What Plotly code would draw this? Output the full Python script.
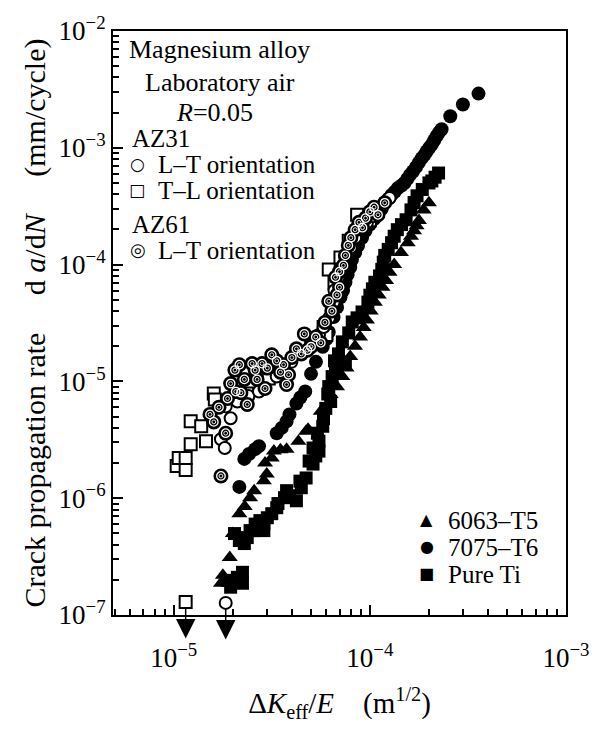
import math
import plotly.graph_objects as go

# ---------------- data ----------------
# AZ31, L-T orientation (open circles)
az31_lt_x = [1.84e-5, 1.74e-5, 1.82e-5, 1.95e-5, 1.84e-5, 2.11e-5, 2.40e-5, 2.72e-5, 3.35e-5,
             3.98e-5, 4.50e-5, 5.01e-5, 5.50e-5, 5.81e-5, 6.20e-5, 6.53e-5, 6.60e-5, 6.92e-5,
             7.20e-5, 7.50e-5, 8.00e-5, 8.41e-5, 9.00e-5, 9.66e-5, 1.04e-4, 1.12e-4, 1.26e-4]
az31_lt_y = [1.27e-7, 3.20e-6, 2.69e-6, 4.83e-6, 6.11e-6, 6.73e-6, 7.50e-6, 8.19e-6, 1.10e-5,
             1.47e-5, 1.75e-5, 2.18e-5, 2.50e-5, 2.92e-5, 3.50e-5, 4.77e-5, 6.00e-5, 7.79e-5,
             9.50e-5, 1.15e-4, 1.40e-4, 1.70e-4, 2.00e-4, 2.29e-4, 2.60e-4, 3.06e-4, 3.72e-4]

# AZ31, T-L orientation (open squares)
az31_tl_x = [1.15e-5, 1.035e-5, 1.06e-5, 1.15e-5, 1.15e-5, 1.22e-5, 1.46e-5, 1.22e-5, 1.38e-5,
             1.60e-5, 1.62e-5, 2.37e-5, 3.05e-5, 5.81e-5, 6.00e-5, 6.40e-5, 6.60e-5, 6.17e-5,
             7.08e-5, 7.80e-5, 8.61e-5, 9.30e-5, 1.00e-4]
az31_tl_y = [1.29e-7, 1.89e-6, 2.21e-6, 1.74e-6, 2.21e-6, 2.90e-6, 3.08e-6, 4.55e-6, 4.13e-6,
             7.87e-6, 7.00e-6, 7.87e-6, 1.06e-5, 2.92e-5, 2.50e-5, 4.40e-5, 7.00e-5, 9.10e-5,
             1.15e-4, 1.60e-4, 2.67e-4, 2.10e-4, 2.40e-4]

# AZ61, L-T orientation (bull's-eye circles)
az61_lt_x = [1.74e-5, 1.84e-5, 1.53e-5, 1.60e-5, 1.70e-5, 1.88e-5, 2.07e-5, 1.95e-5, 2.20e-5,
             2.37e-5, 2.29e-5, 2.66e-5, 2.05e-5, 2.16e-5, 2.51e-5, 2.60e-5, 2.82e-5, 2.92e-5,
             3.00e-5, 3.16e-5, 3.35e-5, 3.50e-5, 3.63e-5, 3.85e-5, 3.76e-5, 4.00e-5, 4.22e-5,
             4.47e-5, 4.63e-5, 4.80e-5, 5.01e-5, 5.30e-5, 5.62e-5, 5.90e-5, 6.17e-5, 6.40e-5,
             6.80e-5, 7.00e-5, 6.68e-5, 7.00e-5, 7.33e-5, 7.50e-5, 7.76e-5, 8.00e-5, 8.41e-5,
             8.80e-5, 9.17e-5, 9.50e-5, 1.00e-4, 1.05e-4, 1.10e-4, 1.19e-4]
az61_lt_y = [1.55e-6, 3.60e-6, 5.22e-6, 4.50e-6, 6.00e-6, 7.14e-6, 8.19e-6, 9.58e-6, 8.00e-6,
             6.35e-6, 1.04e-5, 1.04e-5, 1.25e-5, 1.39e-5, 1.42e-5, 1.25e-5, 1.42e-5, 8.69e-6,
             1.30e-5, 1.69e-5, 1.50e-5, 1.20e-5, 1.39e-5, 1.14e-5, 9.40e-6, 1.60e-5, 1.90e-5,
             1.72e-5, 2.55e-5, 1.85e-5, 1.98e-5, 2.40e-5, 2.14e-5, 3.20e-5, 4.86e-5, 4.00e-5,
             5.50e-5, 6.40e-5, 7.79e-5, 8.70e-5, 9.84e-5, 1.20e-4, 1.46e-4, 1.70e-4, 1.99e-4,
             2.30e-4, 2.07e-4, 2.50e-4, 2.83e-4, 3.10e-4, 2.67e-4, 3.38e-4]

# 6063-T5 (filled triangles)
al6063_x = [1.74e-5, 1.78e-5, 1.93e-5, 2.00e-5, 2.16e-5, 2.30e-5, 2.45e-5, 2.57e-5, 2.88e-5,
            2.98e-5, 2.92e-5, 3.16e-5, 3.24e-5, 3.50e-5, 3.76e-5, 4.32e-5, 4.73e-5, 4.84e-5,
            5.62e-5, 6.31e-5, 6.80e-5, 7.24e-5, 7.60e-5, 7.94e-5, 8.40e-5, 8.91e-5, 9.30e-5,
            9.66e-5, 1.01e-4, 1.06e-4, 1.11e-4, 1.16e-4, 1.21e-4, 1.26e-4, 1.33e-4, 1.44e-4,
            1.56e-4, 1.62e-4, 1.68e-4, 1.73e-4, 1.78e-4, 1.88e-4, 2.00e-4]
al6063_y = [1.87e-7, 2.19e-7, 3.11e-7, 4.98e-7, 7.37e-7, 8.50e-7, 1.01e-6, 1.16e-6, 1.41e-6,
            1.61e-6, 2.00e-6, 2.21e-6, 2.53e-6, 2.60e-6, 2.63e-6, 3.08e-6, 3.74e-6, 3.89e-6,
            5.54e-6, 7.72e-6, 9.00e-6, 1.10e-5, 1.30e-5, 1.63e-5, 2.00e-5, 2.40e-5, 2.90e-5,
            3.36e-5, 4.00e-5, 4.77e-5, 5.50e-5, 6.40e-5, 7.30e-5, 8.59e-5, 1.00e-4, 1.27e-4,
            1.54e-4, 1.75e-4, 1.95e-4, 2.15e-4, 2.38e-4, 2.94e-4, 3.38e-4]

# 7075-T6 (filled circles)
al7075_x = [2.16e-5, 2.29e-5, 2.42e-5, 2.60e-5, 2.72e-5, 3.35e-5, 3.55e-5, 3.76e-5, 3.89e-5,
            4.22e-5, 4.42e-5, 4.68e-5, 5.01e-5, 5.31e-5, 5.75e-5, 6.00e-5, 6.17e-5, 6.53e-5,
            6.80e-5, 7.08e-5, 7.30e-5, 7.50e-5, 7.70e-5, 7.94e-5, 8.10e-5, 8.41e-5, 8.70e-5,
            9.12e-5, 9.50e-5, 1.00e-4, 1.05e-4, 1.10e-4, 1.15e-4, 1.19e-4, 1.24e-4, 1.29e-4,
            1.34e-4, 1.39e-4, 1.45e-4, 1.50e-4, 1.55e-4, 1.60e-4, 1.66e-4, 1.72e-4, 1.78e-4,
            1.84e-4, 1.90e-4, 1.95e-4, 2.01e-4, 2.07e-4, 2.13e-4, 2.19e-4, 2.25e-4, 2.32e-4,
            2.57e-4, 2.98e-4, 3.58e-4]
al7075_y = [1.25e-6, 2.17e-6, 2.39e-6, 2.63e-6, 2.79e-6, 3.60e-6, 4.00e-6, 4.55e-6, 5.22e-6,
            6.47e-6, 7.28e-6, 8.19e-6, 1.16e-5, 1.47e-5, 1.98e-5, 2.30e-5, 2.65e-5, 3.56e-5,
            4.30e-5, 5.26e-5, 6.00e-5, 7.06e-5, 8.20e-5, 9.46e-5, 1.10e-4, 1.27e-4, 1.45e-4,
            1.70e-4, 1.95e-4, 2.20e-4, 2.45e-4, 2.67e-4, 3.00e-4, 3.38e-4, 3.65e-4, 3.95e-4,
            4.20e-4, 4.53e-4, 4.75e-4, 5.00e-4, 5.40e-4, 5.85e-4, 6.30e-4, 6.84e-4, 7.50e-4,
            8.16e-4, 8.70e-4, 9.35e-4, 1.00e-3, 1.07e-3, 1.16e-3, 1.26e-3, 1.35e-3, 1.44e-3,
            1.86e-3, 2.35e-3, 2.91e-3]

# Pure Ti (filled squares)
ti_x = [1.95e-5, 1.88e-5, 2.11e-5, 2.24e-5, 2.24e-5, 2.04e-5, 2.16e-5, 2.29e-5, 2.37e-5,
        2.45e-5, 2.57e-5, 2.60e-5, 2.75e-5, 2.88e-5, 2.88e-5, 3.00e-5, 3.16e-5, 3.35e-5,
        3.40e-5, 3.67e-5, 3.76e-5, 3.90e-5, 4.22e-5, 4.40e-5, 4.47e-5, 4.73e-5, 4.90e-5,
        5.13e-5, 5.30e-5, 5.50e-5, 5.13e-5, 5.50e-5, 5.40e-5, 5.75e-5, 5.80e-5, 5.96e-5,
        6.10e-5, 6.31e-5, 6.17e-5, 6.42e-5, 6.60e-5, 6.68e-5, 6.92e-5, 7.50e-5, 7.24e-5,
        7.80e-5, 8.13e-5, 8.60e-5, 9.12e-5, 9.77e-5, 1.00e-4, 1.03e-4, 1.06e-4, 1.12e-4,
        1.15e-4, 1.17e-4, 1.19e-4, 1.24e-4, 1.29e-4, 1.33e-4, 1.38e-4, 1.45e-4, 1.53e-4,
        1.62e-4, 1.68e-4, 1.74e-4, 1.85e-4, 2.00e-4, 2.07e-4, 2.15e-4, 2.24e-4]
ti_y = [1.73e-7, 1.98e-7, 2.10e-7, 1.87e-7, 2.32e-7, 4.98e-7, 4.34e-7, 4.09e-7, 4.60e-7,
        5.28e-7, 5.28e-7, 6.00e-7, 6.43e-7, 6.06e-7, 5.28e-7, 6.80e-7, 7.37e-7, 8.29e-7,
        9.00e-7, 1.01e-6, 1.16e-6, 1.05e-6, 9.51e-7, 1.40e-6, 1.23e-6, 1.49e-6, 2.08e-6,
        1.96e-6, 2.30e-6, 2.53e-6, 2.69e-6, 3.08e-6, 3.60e-6, 4.13e-6, 4.80e-6, 5.87e-6,
        7.80e-6, 6.73e-6, 9.03e-6, 1.10e-5, 1.50e-5, 1.29e-5, 1.72e-5, 1.47e-5, 2.18e-5,
        2.60e-5, 3.23e-5, 3.50e-5, 3.93e-5, 4.77e-5, 5.47e-5, 6.20e-5, 7.06e-5, 8.00e-5,
        9.10e-5, 1.05e-4, 1.20e-4, 1.35e-4, 1.54e-4, 1.75e-4, 1.99e-4, 2.20e-4, 2.42e-4,
        2.94e-4, 3.40e-4, 3.88e-4, 4.40e-4, 5.00e-4, 5.20e-4, 5.60e-4, 6.08e-4]

# points below the measuring limit (marked by a downward arrow)
arrow_x = [1.15e-5, 1.84e-5]
arrow_y = [1.29e-7, 1.27e-7]

x_ticks = [1e-5, 1e-4, 1e-3]
x_ticktext = ["10<sup>−5</sup>", "10<sup>−4</sup>", "10<sup>−3</sup>"]
y_ticks = [1e-7, 1e-6, 1e-5, 1e-4, 1e-3, 1e-2]
y_ticktext = ["10<sup>−7</sup>", "10<sup>−6</sup>", "10<sup>−5</sup>",
              "10<sup>−4</sup>", "10<sup>−3</sup>", "10<sup>−2</sup>"]
x_minor = [m * 10.0 ** e for e in (-6, -5, -4) for m in range(2, 10)]
y_minor = [m * 10.0 ** e for e in (-7, -6, -5, -4, -3) for m in range(2, 10)]

# ---------------- figure ----------------
SERIF = "Liberation Serif"
SYM = "DejaVu Sans"
fig = go.Figure()


def add(x, y, symbol, size, color, lcolor, lwidth):
    fig.add_trace(go.Scatter(
        x=x, y=y, mode="markers", showlegend=False, hoverinfo="skip",
        marker=dict(symbol=symbol, size=size, color=color,
                    line=dict(color=lcolor, width=lwidth))))


add(ti_x, ti_y, "square", 13, "black", "black", 0)
add(al6063_x, al6063_y, "triangle-up", 14, "black", "black", 0)
add(al7075_x, al7075_y, "circle", 14, "black", "black", 0)
add(az31_tl_x, az31_tl_y, "square", 12, "white", "black", 2)
add(az31_lt_x, az31_lt_y, "circle", 12, "white", "black", 2)
add(az61_lt_x, az61_lt_y, "circle", 15, "black", "black", 0)
add(az61_lt_x, az61_lt_y, "circle-open", 8.5, "white", "white", 1.3)
add(az61_lt_x, az61_lt_y, "circle-open", 3.8, "white", "white", 0.9)

axis_common = dict(
    type="log", showline=True, linecolor="black", linewidth=2, mirror=True,
    ticks="inside", ticklen=10, tickwidth=1.5, tickcolor="black",
    showgrid=False, zeroline=False,
    tickfont=dict(family=SERIF, size=27, color="black"),
)

fig.update_xaxes(
    **axis_common,
    range=[math.log10(4.9e-6), -3],
    tickmode="array", tickvals=x_ticks, ticktext=x_ticktext,
    ticklabelstandoff=18,
    minor=dict(ticks="inside", ticklen=6, tickwidth=1.5, tickcolor="black",
               tickmode="array", tickvals=x_minor, showgrid=False),
    title=dict(text="Δ<i>K</i><sub>eff</sub>/<i>E</i>    (m<sup>1/2</sup>)",
               font=dict(family=SERIF, size=29, color="black"), standoff=20),
)
fig.update_yaxes(
    **axis_common,
    range=[-7, -2],
    tickmode="array", tickvals=y_ticks, ticktext=y_ticktext,
    minor=dict(ticks="inside", ticklen=6, tickwidth=1.5, tickcolor="black",
               tickmode="array", tickvals=y_minor, showgrid=False),
    title=dict(text="Crack propagation rate     d <i>a</i>/d<i>N</i>     (mm/cycle)",
               font=dict(family=SERIF, size=30, color="black"), standoff=4),
)

ann = []


def txt(x, y, s, anchor="left", size=25, family=SERIF):
    ann.append(dict(xref="paper", yref="paper", x=x, y=y, text=s, showarrow=False,
                    xanchor=anchor, yanchor="middle",
                    font=dict(family=family, size=size, color="black")))


# upper-left key
txt(0.236, 0.968, "Magnesium alloy", "center", 26)
txt(0.236, 0.912, "Laboratory air", "center", 26)
txt(0.223, 0.861, "<i>R</i>=0.05", "center", 26)
txt(0.037, 0.816, "AZ31")
txt(0.054, 0.772, "○", "center", 17, SYM)
txt(0.095, 0.772, "L–T orientation")
txt(0.054, 0.728, "□", "center", 17, SYM)
txt(0.095, 0.727, "T–L orientation")
txt(0.037, 0.668, "AZ61")
txt(0.056, 0.626, "◎", "center", 18, SYM)
txt(0.095, 0.624, "L–T orientation")
# lower-right key
txt(0.693, 0.164, "▲", "center", 16, SYM)
txt(0.736, 0.162, "6063–T5")
txt(0.693, 0.117, "●", "center", 16, SYM)
txt(0.736, 0.116, "7075–T6")
txt(0.693, 0.071, "■", "center", 16, SYM)
txt(0.736, 0.070, "Pure Ti")

# downward arrows (below detection limit): head drawn under the point
for xa, ya in zip(arrow_x, arrow_y):
    ann.append(dict(xref="x", yref="y", x=math.log10(xa), y=math.log10(ya), text="",
                    showarrow=True, arrowside="start", startarrowhead=2,
                    startarrowsize=2.6, arrowwidth=1.5, arrowcolor="black",
                    ax=0, ay=38, standoff=6, startstandoff=0))

fig.update_layout(
    width=602, height=729,
    margin=dict(l=113, r=27, t=27, b=114),
    paper_bgcolor="white", plot_bgcolor="white",
    font=dict(family=SERIF, color="black"),
    annotations=ann,
)

fig.write_html("out.html")
